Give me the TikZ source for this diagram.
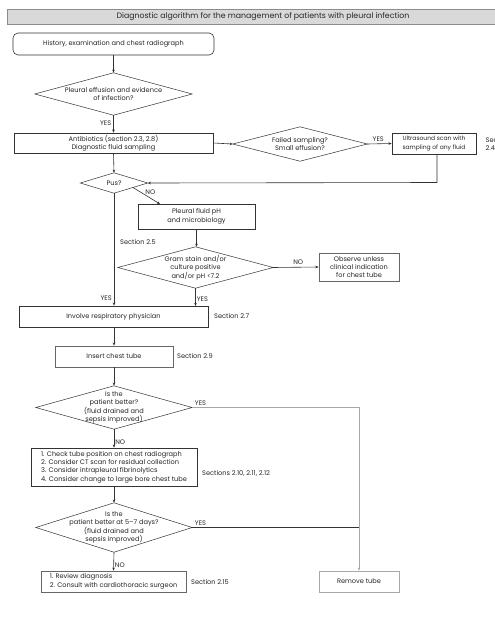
\documentclass[tikz,border=0pt]{standalone}
\usepackage{fontspec}
\setmainfont{Poppins}
\usetikzlibrary{arrows.meta}
\definecolor{ln}{HTML}{333333}
\definecolor{lg}{HTML}{A8A8A8}
\definecolor{bar}{HTML}{D9D9D9}
\begin{document}
\begin{tikzpicture}[x=1pt,y=-1pt,
  every node/.style={font=\fontsize{6.6}{8.3}\selectfont, inner sep=0pt, text=black!85},
  box/.style={draw=ln, line width=0.6pt, rectangle, align=center},
  dia/.style={rectangle, align=center},
  dline/.style={draw=ln, line width=0.5pt},
  lab/.style={anchor=west, align=left},
  arr/.style={draw=ln, line width=0.6pt, -{Stealth[length=3.2pt,width=2.6pt]}},
  con/.style={draw=ln, line width=0.6pt},
]
\useasboundingbox (0,0) rectangle (495,619);
\fill[white] (0,0) rectangle (495,619);
% title bar
\node[draw=black!45, fill=bar, line width=0.6pt, minimum width=496pt, minimum height=15pt, anchor=north west] (titlebar) at (7,9) {};
\node[font=\fontsize{7.8}{9}\selectfont] (title) at (263,16.5) {Diagnostic algorithm for the management of patients with pleural infection};

% nodes
\node[box, rounded corners=5pt, minimum width=201pt, minimum height=22pt] (hist) at (113.5,44) {History, examination and chest radiograph};
\node[dia, minimum width=157pt, minimum height=42pt] (d1) at (113.5,94) {Pleural effusion and evidence\\of infection?};
\node[box, minimum width=199pt, minimum height=20pt] (abx) at (113.5,143) {Antibiotics (section 2.3, 2.8)\\Diagnostic fluid sampling};
\node[dia, minimum width=134pt, minimum height=34pt] (d2) at (300,144) {Failed sampling?\\Small effusion?};
\node[box, minimum width=84pt, minimum height=21pt, font=\fontsize{6}{8.3}\selectfont] (us) at (434,143.5) {Ultrasound scan with\\sampling of any fluid};
\node[dia, minimum width=67pt, minimum height=20pt] (pus) at (114,183) {Pus?};
\node[box, minimum width=117pt, minimum height=25pt] (ph) at (196.5,216.5) {Pleural fluid pH\\and microbiology};
\node[dia, minimum width=155pt, minimum height=41pt] (gram) at (195.5,267.5) {Gram stain and/or\\culture positive\\and/or pH {<}7.2};
\node[box, draw=black!60, minimum width=80pt, minimum height=28pt] (obs) at (359,267) {Observe unless\\clinical indication\\for chest tube};
\node[box, minimum width=189pt, minimum height=21pt] (inv) at (113.5,316.5) {Involve respiratory physician};
\node[box, draw=black!60, minimum width=118pt, minimum height=21pt] (ins) at (114,356.5) {Insert chest tube};
\node[dia, minimum width=156pt, minimum height=43pt] (d3) at (114,407.5) {Is the\\patient better?\\(fluid drained and\\sepsis improved)};
\node[box, minimum width=166pt, minimum height=38pt, align=left] (b4) at (114,467) {1. Check tube position on chest radiograph\\2. Consider CT scan for residual collection\\3. Consider intrapleural fibrinolytics\\4. Consider change to large bore chest tube};
\node[dia, minimum width=156pt, minimum height=49pt] (d4) at (114,527.5) {Is the\\patient better at 5--7 days?\\(fluid drained and\\sepsis improved)};
\node[box, draw=black!60, minimum width=145pt, minimum height=21pt, align=left] (b5) at (113.5,581.5) {1. Review diagnosis\\2. Consult with cardiothoracic surgeon};
\node[box, draw=lg, minimum width=80pt, minimum height=21pt] (rem) at (359,581.5) {Remove tube};

% diamond outlines
\foreach \d in {d1,d2,pus,gram,d3,d4}
  \draw[dline] (\d.north) -- (\d.east) -- (\d.south) -- (\d.west) -- cycle;

% section labels
\node[lab] (s24) at (485.5,144) {Section\\2.4};
\node[lab] (s25) at (120,242) {Section 2.5};
\node[lab] (s27) at (214,316) {Section 2.7};
\node[lab] (s29) at (177,356) {Section 2.9};
\node[lab] (s210) at (202,473) {Sections 2.10, 2.11, 2.12};
\node[lab] (s215) at (191,582) {Section 2.15};

% coordinates
\coordinate (usdown) at (437,182.5);
\coordinate (usbot) at (437,154);
\coordinate (pusno) at (133,187.5);
\coordinate (phin) at (160,204);
\coordinate (grin) at (195.5,306);
\coordinate (r3) at (359,407.5);
\coordinate (r4) at (359,527.5);

% connectors
\draw[arr] (hist.south) -- (d1.north);
\draw[arr] (d1.south) -- node[pos=0.45, left=2pt] (y1) {YES} (abx.north);
\draw[arr] (abx.east) -- (d2.west);
\draw[arr] (d2.east) -- node[pos=0.45, above=2pt] (y2) {YES} (us.west);
\draw[arr] (usbot) -- (usdown) -- (pus.east);
\draw[arr] (abx.south) -- (pus.north);
\draw[arr] (pusno) -- node[pos=0.3, anchor=west, xshift=4pt] (n1) {NO} (phin);
\draw[arr] (pus.south) -- node[pos=0.93, left=2pt] (y3) {YES} (pus.south |- inv.north);
\draw[arr] (ph.south) -- (ph.south |- gram.north);
\draw[arr] (gram.east) -- node[pos=0.55, above=2pt] (n2) {NO} (obs.west);
\draw[arr] (gram.south) -- node[pos=0.6, right=1pt] (y4) {YES} (grin);
\draw[arr] (inv.south -| ins.north) -- (ins.north);
\draw[arr] (ins.south) -- (d3.north);
\draw[arr, draw=lg] (d3.east) -- node[pos=0.05, above=2pt] (y5) {YES} (r3) -- (rem.north);
\draw[arr] (d3.south) -- node[pos=0.7, right=1pt] (n3) {NO} (b4.north);
\draw[arr] (b4.south) -- (d4.north);
\draw[con] (d4.east) -- node[pos=0.05, above=2pt] (y6) {YES} (r4);
\draw[arr] (d4.south) -- node[pos=0.7, right=1pt] (n4) {NO} (b5.north);
\end{tikzpicture}
\end{document}
